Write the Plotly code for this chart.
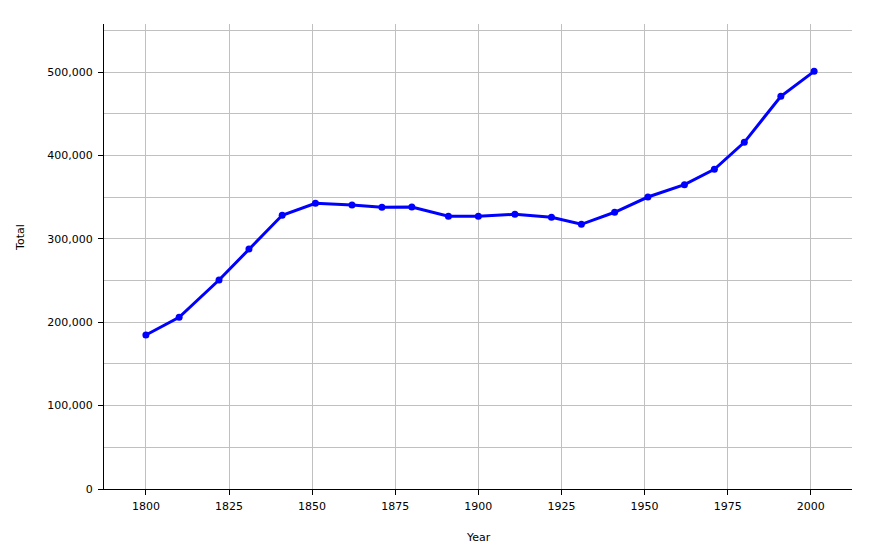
import plotly.graph_objects as go

# census years and totals
years = [1800, 1810, 1822, 1831, 1841, 1851, 1862, 1871, 1880, 1891, 1900,
         1911, 1922, 1931, 1941, 1951, 1962, 1971, 1980, 1991, 2001]
totals = [184700, 205900, 250600, 287800, 328200, 342600, 340500, 337700,
          338000, 327000, 327000, 329300, 325800, 317400, 331800, 350100,
          364900, 383300, 415700, 470900, 500800]

x_ticks = [1800, 1825, 1850, 1875, 1900, 1925, 1950, 1975, 2000]

font = dict(family="DejaVu Sans", size=11, color="black")

fig = go.Figure()
fig.add_trace(go.Scatter(
    x=years, y=totals,
    mode="lines+markers",
    line=dict(color="#0000FF", width=3),
    marker=dict(color="#0000FF", size=7),
    hoverinfo="x+y",
))

# page body adds an 8px offset, so margins are shifted to compensate
fig.update_layout(
    width=876, height=560,
    margin=dict(l=96, r=32, t=16, b=79),
    plot_bgcolor="white", paper_bgcolor="white",
    font=font,
    showlegend=False,
    xaxis=dict(
        range=[1787.4, 2012.4],
        tickmode="array", tickvals=x_ticks,
        showgrid=True, gridcolor="#C0C0C0", gridwidth=1,
        showline=True, linecolor="black", linewidth=1,
        ticks="outside", ticklen=5, tickcolor="black",
        ticklabelstandoff=2,
        zeroline=False,
    ),
    yaxis=dict(
        range=[0, 557554],
        dtick=100000, tickformat=",d",
        showgrid=True, gridcolor="#C0C0C0", gridwidth=1,
        minor=dict(dtick=50000, showgrid=True, gridcolor="#C0C0C0",
                   gridwidth=1, ticks=""),
        showline=True, linecolor="black", linewidth=1,
        ticks="outside", ticklen=5, tickcolor="black",
        ticklabelstandoff=3,
        zeroline=False,
    ),
    annotations=[
        dict(text="Year", xref="paper", yref="paper", x=0.5, y=-0.105,
             xanchor="center", yanchor="middle", showarrow=False, font=font),
        dict(text="Total", xref="paper", yref="paper", x=-0.111, y=0.542,
             xanchor="center", yanchor="middle", textangle=-90,
             showarrow=False, font=font),
    ],
)

fig.write_html("out.html")
